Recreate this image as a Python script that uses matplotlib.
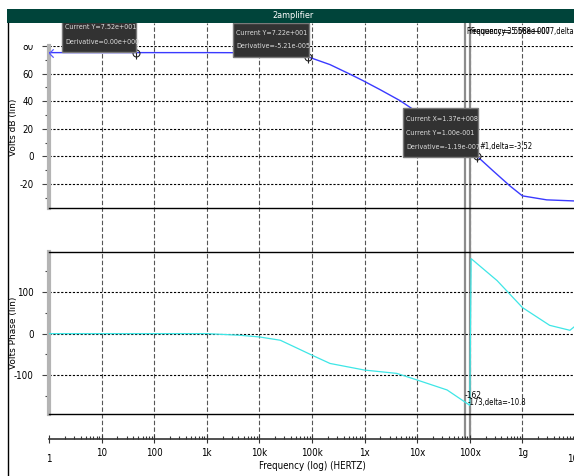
import numpy as np
import matplotlib
matplotlib.use('Agg')
import matplotlib.pyplot as plt

from matplotlib.patches import Rectangle
from matplotlib.ticker import FixedLocator, LogLocator, NullFormatter
from matplotlib.transforms import blended_transform_factory

plt.rcParams['font.family'] = ['DejaVu Sans']
plt.rcParams['font.stretch'] = 'condensed'
plt.rcParams['axes.unicode_minus'] = False

#=========================================================================
# magnitude trace (volts dB) against frequency
freq_db = [1, 10, 100, 1e3, 1e4, 3e4, 8.3e4, 2.2e5, 5e5, 9.3e5, 2e6, 4.7e6,
           8e6, 2e7, 5e7, 1.37e8, 2.76e8, 5.8e8, 1e9, 2.9e9, 1e10]
volts_db = [75.2, 75.2, 75.2, 75.2, 75.1, 74.6, 72.2, 66.5, 60.0, 54.9, 48.2,
            40.4, 34.5, 23.4, 12.3, 0.1, -10.5, -21.5, -28.7, -31.6, -32.4]

# phase trace (degrees), wraps from -180 to +180 just above 100 MHz
freq_ph = [1, 10, 100, 1e3, 4.3e3, 1e4, 2.5e4, 5.2e4, 1e5, 2.2e5, 1e6, 4.1e6,
           1e7, 3.7e7, 1e8, 1.06e8, 3.3e8, 1e9, 3.3e9, 8e9, 1e10]
volts_ph = [0, 0, 0, 0, -4, -8, -16, -35, -52, -72, -88, -96,
            -112, -136, -173, 181, 128, 63, 20, 8, 18]

# cursor readouts on the magnitude trace
cursor_f = [45, 8.3e4, 1.37e8]
cursor_db = [75.2, 72.2, 0.1]

# the two frequency cursors
cursor_lines = [8.1e7, 1.0e8]

freq_ticks = [1, 10, 100, 1e3, 1e4, 1e5, 1e6, 1e7, 1e8, 1e9, 1e10]
freq_labels = ['1', '10', '100', '1k', '10k', '100k', '1x', '10x', '100x',
               '1g', '10g']

db_ticks = [80, 60, 40, 20, 0, -20]
db_minor = [70, 50, 30, 10, -10, -30]
ph_ticks = [100, 0, -100]
ph_minor = [150, 50, -50, -150]

#=========================================================================
W, H = 574, 476
fig = plt.figure(figsize=(W / 100.0, H / 100.0), dpi=100)
fig.patch.set_facecolor('white')


def px_box(x0, y0, x1, y1):
  return [x0 / W, 1 - y1 / H, (x1 - x0) / W, (y1 - y0) / H]


xmin, xmax = 1, 1e10
grid_dash = (0, (4, 2))
hgrid_dash = (0, (2, 1.5))
tick_color = '#444444'

# vertical decade grid runs through both panels and the gap
ax_grid = fig.add_axes(px_box(49, 23, 575, 438))
ax_grid.set_xscale('log')
ax_grid.set_xlim(xmin, xmax)
ax_grid.set_ylim(0, 1)
ax_grid.axis('off')
for f in freq_ticks[1:-1]:
  ax_grid.axvline(f, color='#555555', lw=0.8, ls=grid_dash)
for f in cursor_lines:
  ax_grid.axvline(f, color='#8c8c8c', lw=1.6)


def style_panel(ax, ticks, minor, lims):
  ax.set_xscale('log')
  ax.set_xlim(xmin, xmax)
  ax.set_ylim(*lims)
  ax.patch.set_alpha(0)
  ax.spines['right'].set_visible(False)
  ax.spines['left'].set_color('#b4b4b4')
  ax.spines['left'].set_linewidth(3)
  ax.tick_params(axis='x', which='both', bottom=False, labelbottom=False)
  ax.yaxis.set_major_locator(FixedLocator(ticks))
  ax.yaxis.set_minor_locator(FixedLocator(minor))
  ax.tick_params(axis='y', which='major', length=5, width=0.8,
                 color=tick_color, pad=6, labelsize=7)
  ax.tick_params(axis='y', which='minor', length=3, width=0.8,
                 color=tick_color)


# magnitude panel
ax_db = fig.add_axes(px_box(49, 46, 575, 208))
style_panel(ax_db, db_ticks, db_minor, (-37.5, 80))
ax_db.spines['top'].set_visible(False)
ax_db.spines['bottom'].set_color('black')
ax_db.spines['bottom'].set_linewidth(1)
for v in db_ticks:
  ax_db.axhline(v, color='black', lw=0.8, ls=hgrid_dash, zorder=1)
ax_db.plot(freq_db, volts_db, color='#3a3aff', lw=1.0, zorder=3)
ax_db.plot(freq_db[0], volts_db[0], marker=[(1, 1), (0, 0), (1, -1)],
           ms=6, mfc='none', mec='#5a5aff', mew=0.9, zorder=4)
ax_db.plot(cursor_f, cursor_db, ls='none', marker='o', ms=5, mfc='none',
           mec='#222222', mew=0.8, zorder=4)
ax_db.plot(cursor_f, cursor_db, ls='none', marker='|', ms=8,
           mec='#222222', mew=0.8, zorder=4)
ax_db.set_ylabel('Volts dB (lin)', fontsize=6.5, fontstretch='normal')
ax_db.yaxis.set_label_coords(-31 / 526.0, 0.5)

# phase panel
ax_ph = fig.add_axes(px_box(49, 252, 575, 414))
style_panel(ax_ph, ph_ticks, ph_minor, (-194, 197))
for s in ('top', 'bottom'):
  ax_ph.spines[s].set_color('black')
  ax_ph.spines[s].set_linewidth(1)
for v in ph_ticks:
  ax_ph.axhline(v, color='black', lw=0.8, ls=hgrid_dash, zorder=1)
ax_ph.plot(freq_ph, volts_ph, color='#3ee6e6', lw=0.9, zorder=3)
ax_ph.set_ylabel('Volts Phase (lin)', fontsize=6.5, fontstretch='normal')
ax_ph.yaxis.set_label_coords(-31 / 526.0, 0.5)

# frequency axis strip
ax_f = fig.add_axes(px_box(49, 437, 575, 439))
ax_f.set_xscale('log')
ax_f.set_xlim(xmin, xmax)
ax_f.patch.set_alpha(0)
for s in ('top', 'left', 'right'):
  ax_f.spines[s].set_visible(False)
ax_f.spines['bottom'].set_color('#333333')
ax_f.spines['bottom'].set_linewidth(1.2)
ax_f.set_yticks([])
ax_f.xaxis.set_major_locator(FixedLocator(freq_ticks))
ax_f.xaxis.set_minor_locator(LogLocator(base=10, subs=np.arange(2, 10),
                                        numticks=20))
ax_f.xaxis.set_major_formatter(NullFormatter())
ax_f.xaxis.set_minor_formatter(NullFormatter())
ax_f.tick_params(axis='x', which='major', direction='inout', length=6,
                 width=0.8, color='#333333')
ax_f.tick_params(axis='x', which='minor', direction='in', length=2.5,
                 width=0.8, color='#333333')
label_tr = blended_transform_factory(ax_f.transData, fig.transFigure)
for f, lab in zip(freq_ticks, freq_labels):
  ypx = 459 if lab in ('1', '10g') else 453
  ax_f.text(f, 1 - ypx / H, lab, transform=label_tr, ha='center',
            va='center', fontsize=7, clip_on=False)
fig.text(312 / W, 1 - 466 / H, 'Frequency (log) (HERTZ)', ha='center',
         va='center', fontsize=7)

#=========================================================================
# window chrome and cursor readouts, drawn in pixel space
ax_over = fig.add_axes([0, 0, 1, 1], zorder=10)
ax_over.set_xlim(0, W)
ax_over.set_ylim(H, 0)
ax_over.axis('off')

box_fc = '#323232'
box_ec = '#7a7a7a'
box_tc = '#dcdcdc'


def readout(x0, y0, x1, y1, lines, ys):
  ax_over.add_patch(Rectangle((x0, y0), x1 - x0, y1 - y0, fc=box_fc,
                              ec=box_ec, lw=1))
  for txt, y in zip(lines, ys):
    ax_over.text(x0 + 3, y, txt, color=box_tc, fontsize=5.1, va='center',
                 ha='left')


readout(62, 14, 136, 52, ['Current Y=7.52e+001', 'Derivative=0.00e+000'],
        [27, 42])
readout(233, 23, 309, 57, ['Current Y=7.22e+001', 'Derivative=-5.21e-005'],
        [33, 46])
readout(403, 108, 478, 157, ['Current X=1.37e+008', 'Current Y=1.00e-001',
                             'Derivative=-1.19e-007'], [119, 133, 147])

ax_over.text(479, 146, '#1,delta=-3.52', fontsize=5.5, va='center')
ax_over.text(466, 31, 'Frequency=3.568e+007', fontsize=5.5, va='center')
ax_over.text(470, 31, 'Frequency=5.568e+007,delta=2.13', fontsize=5.5,
             va='center')
ax_over.text(465, 396, '-162', fontsize=6, va='center')
ax_over.text(468, 402, '-173,delta=-10.8', fontsize=5.5, va='center')

# hide upper part of the clipped top tick label
ax_over.add_patch(Rectangle((8, 23), 39, 22, fc='white', ec='none'))

# title bar and window border
ax_over.add_patch(Rectangle((7, 9), W - 7, 14, fc='#00443a', ec='none'))
ax_over.text(293, 16, '2amplifier', color='white', fontsize=6.5,
             ha='center', va='center')
ax_over.plot([7.5, 7.5], [23, H], color='black', lw=1)

fig.savefig('out.png', dpi=100)
